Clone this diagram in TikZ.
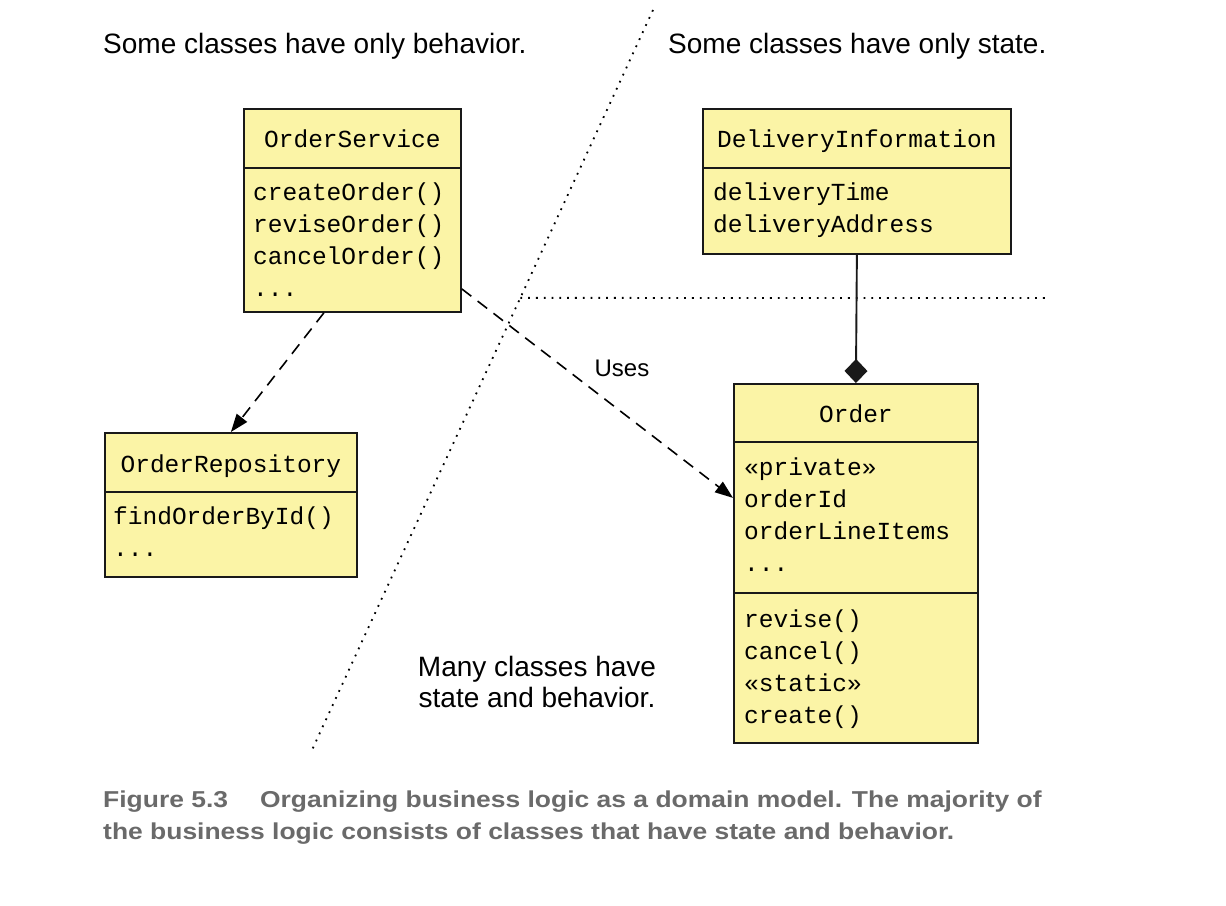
\documentclass[tikz,border=0pt]{standalone}
\usepackage{xcolor}
\usepackage{fontspec}
\setmainfont{Liberation Sans}
\setmonofont{Liberation Mono}
\newfontfamily\captionfont[FakeStretch=1.15]{Liberation Sans}
\usetikzlibrary{positioning,calc,arrows.meta}
\definecolor{classyellow}{HTML}{FBF4A6}
\definecolor{captiongray}{HTML}{6A6A6A}

\begin{document}
\begin{tikzpicture}[x=1pt,y=-1pt,
    classbox/.style={draw=black!90,fill=classyellow,line width=1.8pt,inner sep=0pt,anchor=north west},
    classname/.style={font=\ttfamily\fontsize{24.5}{32}\selectfont,anchor=base,inner sep=0pt},
    members/.style={font=\ttfamily\fontsize{24.5}{32}\selectfont,anchor=base west,align=left,inner sep=0pt},
    note/.style={font=\fontsize{28}{31}\selectfont,inner sep=0pt},
    sepline/.style={draw=black!90,line width=1.8pt},
    uses/.style={dash pattern=on 12pt off 8pt,line width=1.6pt,-{Triangle[length=18pt,width=13pt]}},
    divider/.style={dash pattern=on 1.8pt off 6pt,line width=1.8pt}]
    \useasboundingbox (0,0) rectangle (1226,905);

    % the dividing lines
    \coordinate (divtop) at (653,10);
    \coordinate (divbottom) at (312,750);
    \coordinate (divjoin) at ($(divtop)!0.389!(divbottom)$);
    \coordinate (divend) at (1045,298);
    \draw[divider] (divtop) -- (divbottom);
    \draw[divider] (divjoin) -- (divend);

    \node[note,anchor=base west] (behaviornote) at (103,53) {Some classes have only behavior.};
    \node[note,anchor=base west] (statenote) at (668,53) {Some classes have only state.};
    % multi-line nodes sit on their last line
    \node[note,anchor=base,align=center] (bothnote) at (537,707) {Many classes have\\state and behavior.};

    % OrderService
    \node[classbox,minimum width=217,minimum height=203] (service) at (243,108) {};
    \draw[sepline] ([yshift=-60pt]service.north west) -- ([yshift=-60pt]service.north east);
    \node[classname] (servicename) at ([yshift=-39pt]service.north) {OrderService};
    \node[members] (serviceops) at ([xshift=10pt,yshift=-188pt]service.north west)
        {createOrder()\\reviseOrder()\\cancelOrder()\\...};

    % DeliveryInformation
    \node[classbox,minimum width=308,minimum height=145] (delivery) at (702,108) {};
    \draw[sepline] ([yshift=-60pt]delivery.north west) -- ([yshift=-60pt]delivery.north east);
    \node[classname] (deliveryname) at ([yshift=-39pt]delivery.north) {DeliveryInformation};
    \node[members] (deliveryattrs) at ([xshift=11pt,yshift=-124pt]delivery.north west)
        {deliveryTime\\deliveryAddress};

    % OrderRepository
    \node[classbox,minimum width=252,minimum height=144] (repo) at (104,432) {};
    \draw[sepline] ([yshift=-60pt]repo.north west) -- ([yshift=-60pt]repo.north east);
    \node[classname] (reponame) at ([yshift=-40pt]repo.north) {OrderRepository};
    \node[members] (repoops) at ([xshift=9pt,yshift=-124pt]repo.north west)
        {findOrderById()\\...};

    % Order
    \node[classbox,minimum width=244,minimum height=359] (order) at (733,383) {};
    \draw[sepline] ([yshift=-59pt]order.north west) -- ([yshift=-59pt]order.north east);
    \draw[sepline] ([yshift=-210pt]order.north west) -- ([yshift=-210pt]order.north east);
    \node[classname] (ordername) at ([yshift=-39pt]order.north) {Order};
    \node[members] (orderattrs) at ([xshift=11pt,yshift=-188pt]order.north west)
        {«private»\\orderId\\orderLineItems\\...};
    \node[members] (orderops) at ([xshift=11pt,yshift=-340pt]order.north west)
        {revise()\\cancel()\\«static»\\create()};

    % connectors
    \draw[uses] ([xshift=-28.5pt]service.south) -- (repo.north);
    \draw[uses] ([yshift=-78.5pt]service.east) -- ([yshift=65.5pt]order.west);
    \node[font=\fontsize{24}{28}\selectfont,anchor=base,inner sep=0pt] (useslabel) at (622,376) {Uses};
    \draw[draw=black!90,line width=1.9pt,-{Diamond[length=24pt,width=23pt]}] (delivery.south) -- (order.north);

    % caption
    \node[font=\captionfont\bfseries\fontsize{23}{32}\selectfont,text=captiongray,anchor=base west,align=left,inner sep=0pt] (caption) at (103,839)
        {Figure 5.3\hspace{32pt}Organizing business logic as a domain model. The majority of\\
         the business logic consists of classes that have state and behavior.};
\end{tikzpicture}
\end{document}
